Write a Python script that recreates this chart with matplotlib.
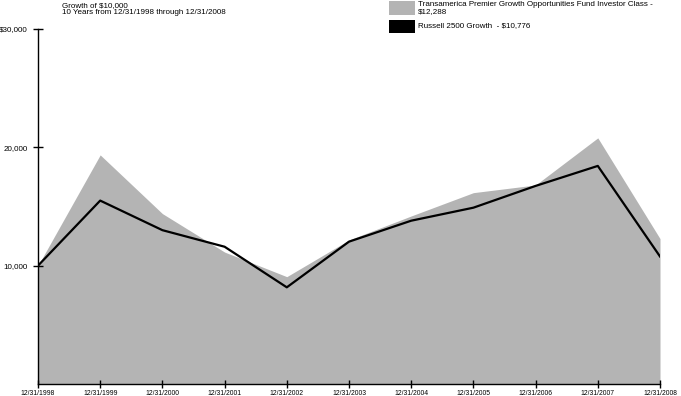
import matplotlib
matplotlib.use("Agg")
from matplotlib import pyplot as plt
from matplotlib import font_manager
from matplotlib.patches import Rectangle

plt.rcParams['font.family'] = ['Liberation Sans', 'DejaVu Sans']

years   = ['12/31/1998', '12/31/1999', '12/31/2000', '12/31/2001', '12/31/2002', '12/31/2003',
           '12/31/2004', '12/31/2005', '12/31/2006', '12/31/2007', '12/31/2008']
fund    = [10000, 19360, 14400, 11150, 9070, 12170, 14200, 16170, 16820, 20800, 12288]
russell = [10000, 15500, 13000, 11600, 8170, 12030, 13800, 14900, 16740, 18430, 10776]
yticks  = [10000, 20000, 30000]
ylabels = ['10,000', '20,000', '$30,000']

# narrow face for the date labels if it is there
names = set(f.name for f in font_manager.fontManager.ttflist)
if 'Liberation Sans Narrow' in names:
    xfont, xsize = 'Liberation Sans Narrow', 5.6
else:
    xfont, xsize = 'Liberation Sans', 4.9

gray = '#b4b4b4'
fig = plt.figure(figsize=(6.81, 3.96), dpi=100)
ax  = fig.add_axes([38/681, 1-384/396, (660-38)/681, (384-29)/396])

x = list(range(len(years)))
ax.fill_between(x, 0, fund, color=gray, linewidth=0)
ax.plot(x, russell, color='black', linewidth=1.6)

ax.set_xlim(0, len(years)-1)
ax.set_ylim(0, 30000)
ax.set_xticks(x)
ax.set_xticklabels(years, fontsize=xsize, family=xfont)
ax.set_yticks(yticks)
ax.set_yticklabels(ylabels, fontsize=5.8)
ax.tick_params(axis='x', direction='inout', length=6, width=1, pad=1.5)
ax.tick_params(axis='y', direction='inout', length=7, width=1, pad=4)
for s in ['top', 'right']:
    ax.spines[s].set_visible(False)
for s in ['left', 'bottom']:
    ax.spines[s].set_linewidth(1)

fig.text(62/681, 1-9/396, 'Growth of $10,000\n10 Years from 12/31/1998 through 12/31/2008',
         fontsize=5.75, va='center', ha='left', linespacing=1.0)

fig.patches.append(Rectangle((389/681, 1-15/396), 26/681, 14/396, transform=fig.transFigure,
                             facecolor=gray, edgecolor='none'))
fig.patches.append(Rectangle((389/681, 1-33/396), 26/681, 13/396, transform=fig.transFigure,
                             facecolor='black', edgecolor='none'))
fig.text(418/681, 1-8.5/396, 'Transamerica Premier Growth Opportunities Fund Investor Class -\n$12,288',
         fontsize=5.75, va='center', ha='left', linespacing=1.0)
fig.text(418/681, 1-26/396, 'Russell 2500 Growth  - $10,776', fontsize=5.75, va='center', ha='left')

fig.savefig('out.png', dpi=100)
